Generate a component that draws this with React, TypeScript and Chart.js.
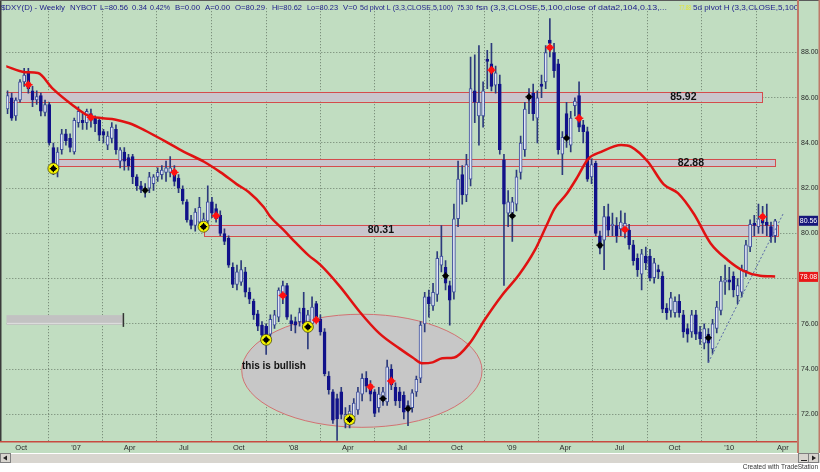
import React, { useEffect, useRef } from 'react';
import { Chart, registerables } from 'chart.js';
Chart.register(...registerables);

// ---------- data (weekly $DXY candles, first bar = week ending 2006-09-08) ----------
const firstBarDate = '2006-09-08';
const opens = [
  85.5, 86.0, 85.2, 85.9, 86.7, 87.1, 86.3, 85.9, 86.1, 85.35, 85.7, 83.8, 82.85, 83.7, 84.4, 84.2, 83.6, 84.9, 85.0, 84.9,
  85.3, 85.1, 85.0, 84.5, 83.9, 84.2, 84.6, 83.2, 83.6, 83.35, 83.4, 82.5, 82.1, 81.95, 82.0, 82.2, 82.5, 82.6, 82.7, 82.7,
  82.8, 82.45, 81.95, 81.4, 80.6, 80.35, 80.5, 80.35, 80.55, 81.4, 81.1, 80.8, 80.0, 79.8, 78.5, 77.75, 77.85, 78.3, 77.4, 77.0,
  76.45, 75.95, 75.9, 75.55, 75.95, 76.3, 77.2, 77.7, 76.15, 76.1, 76.1, 76.7, 75.9, 76.0, 76.9, 76.2, 75.65, 73.7, 73.0, 72.7,
  73.0, 71.65, 71.9, 71.9, 72.2, 72.9, 73.6, 73.3, 73.0, 72.3, 72.6, 72.55, 74.0, 73.2, 73.0, 72.85, 72.15, 72.3, 73.0, 73.6,
  76.0, 77.2, 76.8, 77.3, 78.6, 78.5, 77.7, 77.4, 80.65, 82.6, 81.7, 82.4, 86.3, 85.2, 85.2, 87.7, 87.5, 86.55, 86.6, 83.25,
  80.9, 80.9, 81.3, 82.7, 83.7, 86.1, 86.2, 85.1, 86.6, 86.7, 88.55, 88.0, 87.5, 83.5, 85.3, 83.9, 85.65, 86.1, 84.8, 84.5,
  82.5, 83.1, 79.9, 79.7, 80.75, 80.35, 80.35, 80.2, 80.1, 80.15, 79.5, 78.9, 78.2, 79.0, 79.0, 78.05, 78.4, 78.1, 76.7, 76.6,
  76.5, 77.0, 76.4, 75.8, 75.65, 76.4, 75.65, 75.15, 75.55, 74.9, 75.8, 76.6, 77.85, 77.95, 78.1, 77.25, 77.4, 78.35, 79.4, 80.45,
  80.3, 80.6, 80.5, 80.3, 79.9
];
const highs = [
  86.3, 86.2, 86.0, 86.8, 87.3, 87.3, 86.5, 86.3, 86.2, 85.9, 85.8, 84.0, 83.8, 84.6, 84.6, 84.4, 85.1, 85.6, 85.3, 85.5,
  85.5, 85.2, 85.1, 84.6, 84.5, 84.9, 84.8, 83.8, 83.8, 83.5, 83.5, 82.6, 82.3, 82.2, 82.7, 82.6, 82.9, 83.0, 83.2, 83.4,
  83.0, 82.6, 82.1, 81.5, 80.8, 81.1, 81.6, 80.9, 82.1, 81.6, 81.3, 81.0, 80.2, 79.9, 78.7, 78.6, 78.8, 78.5, 77.6, 77.1,
  76.6, 76.1, 76.0, 76.4, 76.6, 77.6, 77.9, 77.8, 76.4, 76.3, 76.7, 77.4, 76.6, 77.2, 77.0, 76.4, 75.8, 73.9, 73.1, 72.9,
  73.2, 72.3, 72.4, 72.7, 73.2, 73.8, 73.9, 73.5, 73.1, 73.2, 73.2, 74.4, 74.2, 73.4, 73.2, 73.0, 72.6, 73.1, 73.7, 76.1,
  77.4, 77.5, 77.8, 79.2, 80.35, 78.8, 77.9, 81.3, 83.2, 83.0, 83.5, 87.8, 87.9, 88.3, 86.7, 88.1, 88.4, 87.4, 87.0, 83.5,
  81.9, 81.6, 82.8, 84.3, 85.8, 86.4, 86.6, 86.3, 87.0, 88.3, 89.5, 88.4, 87.7, 84.5, 85.8, 85.4, 86.0, 86.7, 85.0, 84.7,
  83.3, 83.2, 80.1, 81.2, 81.3, 80.9, 80.7, 81.0, 80.9, 80.4, 79.7, 79.1, 79.3, 79.4, 79.3, 78.9, 78.6, 78.3, 76.9, 77.4,
  77.2, 77.3, 76.6, 76.0, 76.6, 76.6, 75.9, 76.0, 75.8, 76.2, 77.0, 78.1, 78.6, 78.5, 78.3, 78.0, 78.6, 79.7, 80.6, 80.8,
  81.3, 81.2, 81.3, 80.5, 80.62
];
const lows = [
  85.3, 85.0, 85.0, 85.8, 86.5, 86.2, 85.6, 85.7, 85.2, 85.2, 83.9, 82.6, 82.5, 83.5, 83.9, 83.6, 83.5, 84.7, 84.6, 84.6,
  84.7, 84.5, 84.1, 84.0, 83.7, 84.0, 83.5, 82.9, 82.8, 82.8, 82.2, 81.9, 81.8, 81.6, 81.8, 81.9, 82.3, 82.4, 82.3, 82.5,
  82.1, 81.8, 81.3, 80.5, 80.2, 80.1, 80.3, 80.2, 80.4, 80.7, 80.5, 79.9, 79.5, 78.5, 77.6, 77.5, 77.7, 77.2, 76.9, 76.2,
  75.7, 75.3, 74.65, 75.3, 75.8, 76.1, 76.9, 76.2, 75.7, 75.6, 75.9, 75.8, 74.9, 75.8, 76.1, 75.5, 73.7, 72.9, 71.6, 70.85,
  71.8, 71.4, 71.4, 71.6, 72.0, 72.6, 73.0, 72.6, 71.9, 72.1, 72.4, 72.4, 73.1, 72.4, 72.3, 71.8, 71.5, 72.1, 72.8, 73.4,
  75.65, 76.3, 76.6, 77.0, 78.3, 77.5, 75.95, 77.1, 80.3, 81.3, 81.4, 82.1, 84.9, 83.9, 84.7, 86.4, 86.3, 86.2, 83.5, 77.7,
  80.3, 79.65, 81.0, 82.4, 83.4, 85.3, 85.0, 84.0, 86.0, 86.4, 87.8, 86.9, 83.5, 82.6, 83.8, 83.6, 85.2, 84.5, 84.0, 82.3,
  82.2, 79.9, 79.1, 78.4, 79.9, 79.9, 79.6, 79.9, 79.8, 79.3, 78.6, 78.1, 77.5, 78.4, 77.9, 77.8, 78.0, 76.5, 76.2, 76.3,
  76.3, 76.3, 75.4, 75.2, 75.4, 75.3, 75.1, 74.9, 74.3, 74.7, 75.6, 76.4, 77.3, 77.5, 77.2, 76.9, 77.2, 78.1, 79.2, 79.9,
  80.0, 80.0, 79.9, 79.6, 79.6
];
const closes = [
  86.1, 85.1, 85.9, 86.7, 87.0, 86.4, 85.9, 86.05, 85.4, 85.7, 84.0, 82.85, 83.6, 84.4, 84.1, 83.8, 85.0, 85.4, 84.9, 85.4,
  85.0, 84.85, 84.35, 84.35, 84.3, 84.7, 83.7, 83.7, 83.2, 83.0, 82.5, 82.1, 81.95, 82.0, 82.5, 82.5, 82.7, 82.8, 82.9, 82.9,
  82.3, 82.0, 81.45, 80.6, 80.35, 80.95, 81.15, 80.65, 81.4, 80.9, 80.65, 80.0, 79.65, 78.6, 77.75, 78.3, 78.4, 77.4, 77.1, 76.4,
  75.9, 75.5, 75.35, 76.2, 76.4, 77.5, 77.7, 76.3, 76.0, 75.95, 76.5, 76.0, 76.4, 76.75, 76.3, 75.65, 73.8, 73.1, 71.75, 71.8,
  72.0, 72.0, 72.15, 72.5, 73.0, 73.6, 73.25, 72.9, 72.05, 72.9, 73.0, 74.1, 73.3, 72.6, 72.6, 72.1, 72.4, 72.95, 73.55, 75.95,
  77.2, 76.9, 77.4, 78.9, 79.0, 77.8, 77.05, 80.65, 82.4, 81.7, 83.05, 86.4, 85.8, 85.8, 86.3, 87.6, 86.5, 87.1, 83.7, 81.3,
  81.4, 81.4, 82.5, 84.0, 85.5, 85.95, 85.3, 86.0, 86.5, 88.0, 88.4, 87.2, 83.7, 84.25, 84.2, 85.1, 85.85, 84.7, 84.5, 82.4,
  83.05, 80.0, 79.35, 80.75, 80.15, 80.4, 79.9, 80.5, 80.45, 79.5, 78.8, 78.4, 79.1, 78.7, 78.05, 78.7, 78.3, 76.65, 76.5, 77.15,
  77.0, 76.5, 75.65, 75.55, 76.4, 75.55, 75.35, 75.8, 75.15, 76.0, 76.75, 77.9, 77.95, 77.85, 77.5, 77.7, 78.4, 79.5, 80.4, 80.35,
  80.65, 80.45, 80.35, 79.85, 80.56
];

// moving average: bar index / value
const maIndex = [-0.5, 4.2, 7.3, 10.9, 15.4, 19.2, 22.8, 25.7, 29.2, 32.8, 37.6, 42.3, 47.1, 51.1, 55.0, 57.8, 61.4, 63.0, 66.1, 69.2,
  72.1, 75.0, 79.7, 84.5, 89.2, 94.0, 97.1, 99.5, 101.9, 104.2, 107.1, 110.7, 114.5, 118.5, 122.6, 126.4, 129.2, 131.1, 134.0, 136.4,
  139.2, 142.3, 147.1, 149.5, 153.5, 157.3, 160.7, 164.5, 168.5, 172.6, 176.4, 180.4, 184.0];
const maValue = [87.4, 87.13, 87.09, 86.39, 85.7, 85.22, 85.09, 85.04, 84.87, 84.57, 84.09, 83.61, 83.17, 82.7, 82.17, 81.83, 81.17, 80.74, 80.17, 79.57,
  79.04, 78.61, 77.65, 76.52, 75.57, 74.91, 74.52, 74.26, 74.3, 74.48, 74.52, 75.13, 76.22, 77.26, 78.17, 79.26, 80.35, 81.09, 81.74, 82.43,
  83.3, 83.61, 83.91, 83.83, 83.17, 82.17, 81.78, 80.87, 79.57, 78.83, 78.35, 78.13, 78.1];

// pivot markers
const pivotHighIdx = [5, 20, 40, 50, 66, 74, 87, 92, 116, 130, 137, 148, 181];
const pivotHighVal = [86.57, 85.13, 82.7, 80.78, 77.26, 76.17, 73.22, 73.48, 87.22, 88.22, 85.09, 80.17, 80.74];
const pivotLowIdx = [33, 90, 96, 105, 121, 125, 134, 142, 168];
const pivotLowVal = [81.91, 72.7, 72.26, 78.13, 80.78, 86.04, 84.22, 79.48, 75.39];
const ringIdx = [11, 47, 62, 72, 82];
const ringVal = [82.87, 80.3, 75.3, 75.87, 71.78];

// support / resistance bands
const bandLabels = ['85.92', '82.88', '80.31'];
const bandLow = [85.83, 82.97, 79.91];
const bandHigh = [86.26, 83.3, 80.39];
const bandStart = [-0.5, 12.2, 47.1];
const bandEnd = [180.9, 184.0, 184.7];
const bandLabelAt = [162.0, 163.8, 89.5];

// trend line (dotted)
const trendIdx = [168.0, 186.0];
const trendVal = [74.3, 80.9];

// ellipse annotation (center bar index / value, radii)
const ellipseCenter = [84.95, 73.93];
const ellipseRadius = [28.8, 2.5];
const ellipseText = 'this is bullish';

// axes
const tickDates = ['2006-10-01', '2007-01-01', '2007-04-01', '2007-07-01', '2007-10-01', '2008-01-01', '2008-04-01', '2008-07-01',
  '2008-10-01', '2009-01-01', '2009-04-01', '2009-07-01', '2009-10-01', '2010-01-01', '2010-04-01'];
const tickLabels = ['Oct', "'07", 'Apr', 'Jul', 'Oct', "'08", 'Apr', 'Jul', 'Oct', "'09", 'Apr', 'Jul', 'Oct', "'10", 'Apr'];
const yTickValues = [72, 74, 76, 78, 80, 82, 84, 86, 88];
const lastPrice = 80.56;
const lastMA = 78.08;

// header segments: text, start px, end px
const header = [
  ['$DXY(D) - Weekly', 1, 65], ['NYBOT', 70, 97], ['L=80.56', 100, 128], ['0.34', 132, 147], ['0.42%', 150, 170],
  ['B=0.00', 175, 200], ['A=0.00', 205, 230], ['O=80.29', 235, 265], ['Hi=80.62', 272, 302], ['Lo=80.23', 307, 338],
  ['V=0', 343, 357], ['5d pivot L (3,3,CLOSE,5,100)', 360, 453], ['75.30', 457, 473],
  ['fsn (3,3,CLOSE,5,100,close of data2,104,0.13,...', 476, 667], ['5d pivot H (3,3,CLOSE,5,100)', 693, 801]
] as [string, number, number][];

// ---------- styles ----------
const GREEN = '#c1ddc1';
const DARK = '#12128a';
const HOLLOW_FILL = '#e2e7f3';
const HOLLOW_EDGE = '#3c4c9c';
const WICK = '#2c3a7c';
const FONT = '"Liberation Sans", Arial, sans-serif';
const DAY = 86400000;

const tickIdx = tickDates.map((d) => (Date.parse(d) - Date.parse(firstBarDate)) / (7 * DAY));

function fitText(ctx: CanvasRenderingContext2D, t: string, x0: number, x1: number, yb: number) {
  const w = ctx.measureText(t).width;
  ctx.save();
  ctx.translate(x0, yb);
  ctx.scale((x1 - x0) / w, 1);
  ctx.fillText(t, 0, 0);
  ctx.restore();
}

const decor = {
  id: 'decor',
  beforeDraw(chart: any) {
    const ctx = chart.ctx;
    ctx.save();
    ctx.fillStyle = '#ffffff';
    ctx.fillRect(0, 0, chart.width, chart.height);
    ctx.fillStyle = GREEN;
    ctx.fillRect(0, 0, chart.width, chart.chartArea.bottom + 12);
    ctx.restore();
  },
  beforeDatasetsDraw(chart: any) {
    const { ctx, chartArea: a, scales } = chart;
    const x = scales.x, y = scales.y;
    ctx.save();
    ctx.beginPath();
    ctx.rect(a.left, a.top, a.right - a.left, a.bottom - a.top);
    ctx.clip();
    // small gray indicator box on the left
    const gx1 = x.getPixelForValue(-0.3), gx2 = x.getPixelForValue(27.6);
    const gy1 = y.getPixelForValue(76.39), gy2 = y.getPixelForValue(75.96);
    ctx.fillStyle = '#c2c2c2';
    ctx.fillRect(gx1, gy1, gx2 - gx1, gy2 - gy1);
    ctx.fillStyle = '#e0e0e0';
    ctx.fillRect(gx1, gy2 - 2, gx2 - gx1, 1);
    ctx.fillStyle = '#333';
    ctx.fillRect(gx2, y.getPixelForValue(76.48), 1.5, y.getPixelForValue(75.87) - y.getPixelForValue(76.48));
    // bands
    for (let i = 0; i < bandLabels.length; i++) {
      const x1 = x.getPixelForValue(bandStart[i]);
      const x2 = x.getPixelForValue(bandEnd[i]);
      const y1 = y.getPixelForValue(bandHigh[i]);
      const y2 = y.getPixelForValue(bandLow[i]);
      ctx.fillStyle = '#c9c5cd';
      ctx.fillRect(x1, y1, x2 - x1, y2 - y1);
      ctx.strokeStyle = '#d44c4c';
      ctx.lineWidth = 1;
      ctx.strokeRect(Math.round(x1) + 0.5, Math.round(y1) + 0.5, Math.round(x2 - x1), Math.round(y2 - y1));
      ctx.fillStyle = '#111';
      ctx.font = 'bold 10.5px ' + FONT;
      ctx.textAlign = 'center';
      ctx.textBaseline = 'middle';
      ctx.fillText(bandLabels[i], x.getPixelForValue(bandLabelAt[i]), (y1 + y2) / 2 + 0.5);
    }
    // ellipse
    const cx = x.getPixelForValue(ellipseCenter[0]);
    const cy = y.getPixelForValue(ellipseCenter[1]);
    const rx = x.getPixelForValue(ellipseCenter[0] + ellipseRadius[0]) - cx;
    const ry = y.getPixelForValue(ellipseCenter[1] - ellipseRadius[1]) - cy;
    ctx.beginPath();
    ctx.ellipse(cx, cy, rx, ry, 0, 0, Math.PI * 2);
    ctx.fillStyle = '#c7c7c7';
    ctx.fill();
    ctx.strokeStyle = '#d27272';
    ctx.lineWidth = 1;
    ctx.stroke();
    ctx.fillStyle = '#111';
    ctx.font = 'bold 10px ' + FONT;
    ctx.textAlign = 'left';
    ctx.textBaseline = 'middle';
    ctx.fillText(ellipseText, x.getPixelForValue(56.2), y.getPixelForValue(74.13));
    ctx.restore();
  },
  afterDraw(chart: any) {
    const { ctx, chartArea: a, scales } = chart;
    const y = scales.y;
    const W = chart.width;
    ctx.save();
    // borders
    ctx.fillStyle = '#3a3a3a';
    ctx.fillRect(0, 0, 1.5, a.bottom);
    ctx.fillStyle = '#5a5a5a';
    ctx.fillRect(0, 0, W, 1);
    ctx.fillStyle = '#c84a40';
    ctx.fillRect(0, a.bottom, a.right, 1.5);
    ctx.fillStyle = '#c07868';
    ctx.fillRect(a.right, 0, 2, a.bottom + 12);
    ctx.fillRect(W - 1.5, 0, 1.5, a.bottom + 12);
    // header
    ctx.font = '8px ' + FONT;
    ctx.textBaseline = 'alphabetic';
    ctx.textAlign = 'left';
    ctx.beginPath();
    ctx.rect(0, 0, a.right, 14);
    ctx.clip();
    ctx.fillStyle = '#1c1c8a';
    for (const [t, x0, x1] of header) fitText(ctx, t, x0, x1, 10);
    ctx.fillStyle = '#e4e430';
    fitText(ctx, '77.88', 679, 691, 10);
    ctx.restore();
    ctx.save();
    // value boxes on the right axis
    const boxes: [number, string, string][] = [[lastPrice, lastPrice.toFixed(2), '#16167a'], [lastMA, lastMA.toFixed(2), '#e81818']];
    ctx.font = '7px ' + FONT;
    ctx.textAlign = 'center';
    ctx.textBaseline = 'middle';
    for (const [v, t, c] of boxes) {
      const py = y.getPixelForValue(v);
      ctx.fillStyle = c;
      ctx.fillRect(a.right + 2, py - 5, 19, 10);
      ctx.fillStyle = '#ffffff';
      ctx.fillText(t, a.right + 11.5, py + 0.5);
    }
    // scrollbar
    const sb = a.bottom + 12;
    ctx.fillStyle = '#d8d5cf';
    ctx.fillRect(0, sb, W, 10);
    ctx.fillStyle = '#ffffff';
    ctx.fillRect(0, sb, W, 1);
    ctx.strokeStyle = '#808080';
    ctx.lineWidth = 1;
    ctx.strokeRect(0.5, sb + 0.5, 10, 9);
    ctx.strokeRect(W - 21.5, sb + 0.5, 10, 9);
    ctx.strokeRect(W - 11.5, sb + 0.5, 10, 9);
    ctx.fillStyle = '#222';
    ctx.beginPath(); ctx.moveTo(3, sb + 5); ctx.lineTo(7, sb + 2.5); ctx.lineTo(7, sb + 7.5); ctx.fill();
    ctx.beginPath(); ctx.moveTo(W - 4, sb + 5); ctx.lineTo(W - 8, sb + 2.5); ctx.lineTo(W - 8, sb + 7.5); ctx.fill();
    ctx.fillRect(W - 19, sb + 7, 6, 1);
    // footer
    ctx.font = '6.5px ' + FONT;
    ctx.textAlign = 'right';
    ctx.textBaseline = 'middle';
    ctx.fillStyle = '#333';
    ctx.fillText('Created with TradeStation', W - 2, 467);
    ctx.restore();
  }
};

export default function App() {
  const ref = useRef<HTMLCanvasElement>(null);
  useEffect(() => {
    document.body.style.margin = '0';
    const up = (i: number) => closes[i] >= opens[i];
    const bodyData = opens.map((o, i) => {
      let lo = Math.min(o, closes[i]);
      let hi = Math.max(o, closes[i]);
      if (hi - lo < 0.07) { const m = (hi + lo) / 2; lo = m - 0.035; hi = m + 0.035; }
      return { x: i, y: [lo, hi] };
    });
    const pts = (idx: number[], val: number[]) => idx.map((v, i) => ({ x: v, y: val[i] }));
    const chart = new Chart(ref.current as HTMLCanvasElement, {
      type: 'bar',
      data: {
        datasets: [
          { type: 'bar', label: 'wick', data: lows.map((l, i) => ({ x: i, y: [l, highs[i]] })) as any, backgroundColor: WICK, barThickness: 1, grouped: false, order: 10 } as any,
          { type: 'bar', label: 'body', data: bodyData as any, backgroundColor: opens.map((_, i) => (up(i) ? HOLLOW_FILL : DARK)), borderColor: opens.map((_, i) => (up(i) ? HOLLOW_EDGE : DARK)), borderWidth: 1, borderSkipped: false, barThickness: 3, grouped: false, order: 9 } as any,
          { type: 'line', label: 'trend', data: pts(trendIdx, trendVal), borderColor: '#5868a8', borderWidth: 1, borderDash: [2, 2], pointRadius: 0, order: 8 } as any,
          { type: 'line', label: 'ma', data: pts(maIndex, maValue), borderColor: '#e01212', borderWidth: 2.5, pointRadius: 0, tension: 0.4, cubicInterpolationMode: 'monotone', order: 7 } as any,
          { type: 'line', label: 'ring', data: pts(ringIdx, ringVal), showLine: false, pointStyle: 'circle', pointRadius: 5.5, pointBackgroundColor: '#f4f400', pointBorderColor: '#4a4a10', pointBorderWidth: 0.8, order: 6 } as any,
          { type: 'line', label: 'pivH', data: pts(pivotHighIdx, pivotHighVal), showLine: false, pointStyle: 'circle', pointRadius: 3, pointBackgroundColor: '#ff1010', pointBorderColor: '#ff1010', pointBorderWidth: 0, order: 5 } as any,
          { type: 'line', label: 'pivH2', data: pts(pivotHighIdx, pivotHighVal), showLine: false, pointStyle: 'cross', pointRadius: 4.2, pointBorderColor: '#ff1010', pointBorderWidth: 1.4, order: 5 } as any,
          { type: 'line', label: 'pivL', data: pts(pivotLowIdx.concat(ringIdx), pivotLowVal.concat(ringVal)), showLine: false, pointStyle: 'circle', pointRadius: 2.6, pointBackgroundColor: '#000', pointBorderWidth: 0, order: 4 } as any,
          { type: 'line', label: 'pivL2', data: pts(pivotLowIdx.concat(ringIdx), pivotLowVal.concat(ringVal)), showLine: false, pointStyle: 'cross', pointRadius: 3.6, pointBorderColor: '#000', pointBorderWidth: 1.2, order: 4 } as any,
        ]
      },
      options: {
        responsive: false,
        devicePixelRatio: 1,
        animation: false,
        events: [],
        layout: { padding: { left: 1, top: 1, right: 0, bottom: 19 } },
        plugins: { legend: { display: false }, tooltip: { enabled: false } },
        scales: {
          x: {
            type: 'linear',
            min: -0.2857,
            max: 189.238,
            offset: false,
            afterBuildTicks: (s: any) => { s.ticks = tickIdx.map((v) => ({ value: v })); },
            afterFit: (s: any) => { s.height = 12; },
            ticks: {
              autoSkip: false, maxRotation: 0, padding: 2, color: '#2a2a2a',
              font: { family: FONT, size: 7.5 },
              callback: (_v: any, i: number) => tickLabels[i]
            },
            grid: { color: 'rgba(80,95,80,0.75)', lineWidth: 1, drawTicks: false },
            border: { display: false, dash: [1, 2] }
          },
          y: {
            type: 'linear',
            position: 'right',
            min: 70.826,
            max: 89.957,
            afterBuildTicks: (s: any) => { s.ticks = yTickValues.map((v) => ({ value: v })); },
            afterFit: (s: any) => { s.width = 23; },
            ticks: {
              padding: 4, color: '#2a2a2a',
              font: { family: FONT, size: 7 },
              callback: (v: any) => Number(v).toFixed(2)
            },
            grid: { color: 'rgba(80,95,80,0.75)', lineWidth: 1, drawTicks: false },
            border: { display: false, dash: [1, 2] }
          }
        }
      } as any,
      plugins: [decor]
    });
    return () => chart.destroy();
  }, []);
  return (
    <div style={{ width: 820, height: 472, position: 'relative', overflow: 'hidden' }}>
      <canvas ref={ref} width={820} height={472} style={{ display: 'block', width: 820, height: 472 }} />
    </div>
  );
}
